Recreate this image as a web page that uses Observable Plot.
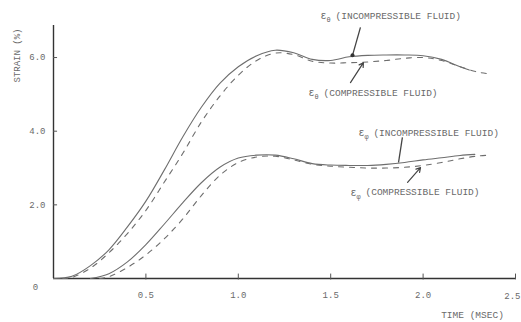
<!DOCTYPE html>
<html>
<head>
<meta charset="utf-8">
<script src="https://cdn.jsdelivr.net/npm/d3@7"></script>
<script src="https://cdn.jsdelivr.net/npm/@observablehq/plot@0.6"></script>
<style>
  html, body { margin: 0; padding: 0; background: #fff; }
  #chart svg { display: block; }
</style>
</head>
<body>
<div id="chart"></div>
<script>
// ε_θ, incompressible fluid (solid)
const thetaIncT = [0,0.1,0.2,0.3,0.4,0.5,0.6,0.7,0.8,0.9,1.0,1.1,1.2,1.3,1.4,1.5,1.6,1.7,1.8,1.9,2.0,2.1,2.2,2.25];
const thetaIncV = [0,0.06,0.35,0.78,1.4,2.1,2.95,3.85,4.65,5.3,5.75,6.05,6.2,6.13,5.95,5.92,6.02,6.06,6.07,6.07,6.05,5.95,5.75,5.66];
// ε_θ, compressible fluid (dashed)
const thetaCompT = [0.05,0.1,0.2,0.3,0.4,0.5,0.6,0.7,0.8,0.9,1.0,1.1,1.2,1.3,1.4,1.5,1.6,1.7,1.8,1.9,2.0,2.1,2.2,2.3,2.37];
const thetaCompV = [0,0.03,0.28,0.7,1.22,1.85,2.62,3.4,4.25,4.95,5.52,5.92,6.12,6.08,5.9,5.85,5.86,5.88,5.92,5.98,6.0,5.92,5.75,5.6,5.55];
// ε_φ, incompressible fluid (solid)
const phiIncT = [0.2,0.3,0.4,0.5,0.6,0.7,0.8,0.9,1.0,1.1,1.2,1.3,1.4,1.5,1.6,1.7,1.8,1.9,2.0,2.1,2.2,2.28];
const phiIncV = [0,0.13,0.45,0.92,1.48,2.06,2.6,3.02,3.27,3.35,3.35,3.25,3.12,3.08,3.07,3.07,3.1,3.15,3.22,3.28,3.34,3.37];
// ε_φ, compressible fluid (dashed)
const phiCompT = [0.25,0.3,0.4,0.5,0.6,0.7,0.8,0.9,1.0,1.1,1.2,1.3,1.4,1.5,1.6,1.7,1.8,1.9,2.0,2.1,2.2,2.3,2.37];
const phiCompV = [0,0.05,0.3,0.64,1.08,1.62,2.25,2.8,3.15,3.3,3.32,3.22,3.1,3.05,3.02,3.0,3.0,3.02,3.07,3.15,3.25,3.33,3.35];

const xTicks = [0.5, 1.0, 1.5, 2.0, 2.5];
const yTicks = [2.0, 4.0, 6.0];

// annotation labels: anchor (time, strain), subscript symbol, text
const labelT = [1.445, 1.38, 1.65, 1.607];
const labelV = [7.14, 5.05, 3.96, 2.34];
const labelSym = ["θ", "θ", "φ", "φ"];
const labelText = ["(INCOMPRESSIBLE FLUID)", "(COMPRESSIBLE FLUID)", "(INCOMPRESSIBLE FLUID)", "(COMPRESSIBLE FLUID)"];
// leader lines: from (t1,v1) to (t2,v2)
const leadT1 = [1.661, 1.607, 1.888, 1.916];
const leadV1 = [6.82, 5.32, 3.83, 2.61];
const leadT2 = [1.618, 1.677, 1.867, 1.986];
const leadV2 = [6.06, 5.86, 3.15, 3.01];
const leadArrow = [false, true, false, true];

const toRows = (ts, vs) => ts.map((t, i) => ({t, v: vs[i]}));
const labels = labelT.map((t, i) => ({t, v: labelV[i], sym: labelSym[i], text: labelText[i]}));
const leaders = leadT1.map((t, i) => ({t1: t, v1: leadV1[i], t2: leadT2[i], v2: leadV2[i], arrow: leadArrow[i]}));

const curveColor = "#6e6e6e";
const textColor = "#6a6a6a";
const font = "Liberation Mono, DejaVu Sans Mono, monospace";
const fmt = d => d.toFixed(1);

const chart = Plot.plot({
  width: 521,
  height: 322,
  marginLeft: 53,
  marginRight: 6,
  marginTop: 25,
  marginBottom: 44,
  style: {background: "#fff", fontFamily: font, fontSize: "9px", color: textColor},
  x: {domain: [0, 2.5]},
  y: {domain: [0, 6.87]},
  marks: [
    Plot.axisX(xTicks.slice(0, -1), {tickSize: 0, tickPadding: 13, tickFormat: fmt, fill: textColor, label: null, fontSize: 9}),
    Plot.text(xTicks.slice(-1), {x: d => d, y: 0, text: fmt, textAnchor: "end", dx: 5, dy: 18, fill: textColor, fontSize: 9}),
    Plot.axisY(yTicks, {tickSize: 0, tickPadding: 8, tickFormat: fmt, fill: textColor, label: null, fontSize: 9}),
    Plot.text([0], {x: 0, y: 0, text: () => "0", dx: -18, dy: 9, fill: textColor, fontSize: 9}),
    // axis lines
    Plot.ruleX([0], {y1: 0, y2: 6.87, stroke: "#333", strokeWidth: 1.4}),
    Plot.ruleY([0], {x1: 0, x2: 2.5, stroke: "#333", strokeWidth: 1.4}),
    // tick marks
    Plot.ruleY(yTicks, {x1: 0, x2: 0.022, stroke: "#555"}),
    Plot.ruleX(xTicks, {y1: -0.04, y2: 0.12, stroke: "#555"}),
    // curves
    Plot.line(toRows(thetaIncT, thetaIncV), {x: "t", y: "v", curve: "catmull-rom", stroke: curveColor, strokeWidth: 1.1}),
    Plot.line(toRows(thetaCompT, thetaCompV), {x: "t", y: "v", curve: "catmull-rom", stroke: curveColor, strokeWidth: 1.1, strokeDasharray: "5,6"}),
    Plot.line(toRows(phiIncT, phiIncV), {x: "t", y: "v", curve: "catmull-rom", stroke: curveColor, strokeWidth: 1.1}),
    Plot.line(toRows(phiCompT, phiCompV), {x: "t", y: "v", curve: "catmull-rom", stroke: curveColor, strokeWidth: 1.1, strokeDasharray: "5,6"}),
    // leader lines
    Plot.link(leaders.filter(d => !d.arrow), {x1: "t1", y1: "v1", x2: "t2", y2: "v2", stroke: "#444", strokeWidth: 1.3}),
    Plot.arrow(leaders.filter(d => d.arrow), {x1: "t1", y1: "v1", x2: "t2", y2: "v2", stroke: "#444", strokeWidth: 1.2, headLength: 6}),
    Plot.dot(leaders.slice(0, 1), {x: "t2", y: "v2", r: 2, fill: "#333"}),
    // annotation labels
    Plot.text(labels, {x: "t", y: "v", text: () => "ε", textAnchor: "start", fill: textColor, fontSize: 10}),
    Plot.text(labels, {x: "t", y: "v", text: "sym", textAnchor: "start", dx: 6, dy: 4, fill: textColor, fontSize: 7}),
    Plot.text(labels, {x: "t", y: "v", text: "text", textAnchor: "start", dx: 15, fill: textColor, fontSize: 9.5}),
    // axis titles
    Plot.text(["STRAIN (%)"], {frameAnchor: "top-left", text: d => d, textAnchor: "middle", rotate: -90, dx: -40, dy: 30, fill: textColor, fontSize: 9}),
    Plot.text(["TIME (MSEC)"], {frameAnchor: "bottom-right", text: d => d, textAnchor: "middle", dx: -43, dy: 39, fill: textColor, fontSize: 9.5})
  ]
});
document.getElementById("chart").appendChild(chart);
</script>
</body>
</html>
